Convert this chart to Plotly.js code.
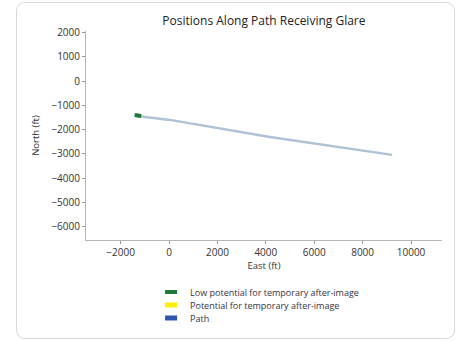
<!DOCTYPE html>
<html>
<head>
<meta charset="utf-8">
<script src="https://cdn.plot.ly/plotly-3.0.1.min.js"></script>
<style>
html,body{margin:0;padding:0;background:#fff;}
#wrap{position:relative;width:459px;height:341px;}
#chart{width:459px;height:341px;}
#card{position:absolute;left:16px;top:2px;width:437px;height:335px;border:1px solid #d8d8d8;border-radius:9px;pointer-events:none;}
</style>
</head>
<body>
<div id="wrap"><div id="chart"></div><div id="card"></div></div>
<script>
// Path positions (ft)
const pathEast  = [-1320, 40, 4170, 9220];
const pathNorth = [-1440, -1600, -2300, -3040];
// Glare positions: low potential for temporary after-image
const lowEast  = [-1420, -1150];
const lowNorth = [-1400, -1440];
// Glare positions: potential for temporary after-image (none visible)
const potEast  = [null];
const potNorth = [null];
const seriesNames = ['Low potential for temporary after-image', 'Potential for temporary after-image', 'Path'];
const xTicks = [-2000, 0, 2000, 4000, 6000, 8000, 10000];
const yTicks = [2000, 1000, 0, -1000, -2000, -3000, -4000, -5000, -6000];

const font = 'Open Sans, Noto Sans, sans-serif';
const traces = [
  {x: pathEast, y: pathNorth, mode: 'lines', line: {color: '#b0c2d4', width: 2.5}, showlegend: false, hoverinfo: 'skip'},
  {x: lowEast, y: lowNorth, mode: 'lines', name: seriesNames[0], line: {color: '#1f7a3a', width: 4}},
  {x: potEast, y: potNorth, mode: 'lines', name: seriesNames[1], line: {color: '#ffee00', width: 5}},
  {x: [null], y: [null], mode: 'lines', name: seriesNames[2], line: {color: '#2c56b0', width: 5}}
];
const fmt = v => v < 0 ? '\u2212' + Math.abs(v) : String(v);
const axisCommon = {showgrid: false, zeroline: false, showline: true, linecolor: '#b5b5b5', linewidth: 1,
  ticks: 'outside', ticklen: 3, tickcolor: '#999', tickfont: {family: font, size: 10, color: '#333'}};
const layout = {
  width: 459, height: 341,
  margin: {l: 86, r: 17, t: 31, b: 101},
  paper_bgcolor: '#fff', plot_bgcolor: '#fff',
  title: {text: 'Positions Along Path Receiving Glare', font: {family: font, size: 12, color: '#222'}, x: 0.575, xanchor: 'center', y: 0.94, yanchor: 'middle'},
  xaxis: Object.assign({}, axisCommon, {range: [-3430, 11280], tickvals: xTicks, ticktext: xTicks.map(fmt),
    title: {text: 'East (ft)', font: {family: font, size: 9.5, color: '#333'}, standoff: 3}}),
  yaxis: Object.assign({}, axisCommon, {range: [-6545, 2060], tickvals: yTicks, ticktext: yTicks.map(fmt),
    title: {text: 'North (ft)', font: {family: font, size: 9.5, color: '#333'}, standoff: 10}}),
  showlegend: true,
  legend: {x: 0.18, xanchor: 'left', y: -0.06, yanchor: 'top', font: {family: font, size: 9, color: '#334'}, bgcolor: 'rgba(0,0,0,0)', tracegroupgap: 0}
};
Plotly.newPlot('chart', traces, layout, {displayModeBar: false, staticPlot: true}).then(gd => {
  // compact legend rows and short swatches like the reference
  gd.querySelectorAll('.legend [clip-path]').forEach(el => el.removeAttribute('clip-path'));
  const items = gd.querySelectorAll('.legend .traces');
  if (!items.length) return;
  const r = items[0].querySelector('text').getBoundingClientRect();
  const delta = 292 - (r.top + r.height / 2);
  let y0 = null;
  items.forEach((g, i) => {
    const m = /translate\(([-\d.]+),\s*([-\d.]+)\)/.exec(g.getAttribute('transform') || '');
    if (!m) return;
    if (y0 === null) y0 = parseFloat(m[2]);
    g.setAttribute('transform', 'translate(' + m[1] + ',' + (y0 + delta + i * 13) + ')');
    g.querySelectorAll('.legendlines path').forEach(p => p.setAttribute('d', 'M15,0h12'));
  });
});
</script>
</body>
</html>
